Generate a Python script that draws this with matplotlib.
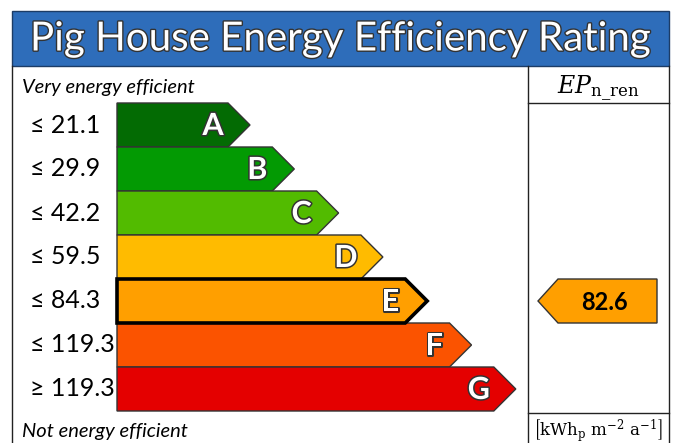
import matplotlib.pyplot as plt
import matplotlib.patches as mpatches
import matplotlib.patheffects as pe

# data
title = "Pig House Energy Efficiency Rating"
classes = ["A", "B", "C", "D", "E", "F", "G"]
limits = ["≤ 21.1", "≤ 29.9", "≤ 42.2", "≤ 59.5", "≤ 84.3", "≤ 119.3", "≥ 119.3"]
colors = ["#036b03", "#039a03", "#52bb00", "#ffbb00", "#ff9f00", "#fb5300", "#e40000"]
value = 82.6
rating = "E"

plt.rcParams['font.family'] = ['Lato', 'DejaVu Sans']

fig = plt.figure(figsize=(6.75, 4.43), dpi=100)
ax = fig.add_axes([0, 0, 1, 1])
ax.set_xlim(0, 675)
ax.set_ylim(443, 0)
ax.axis('off')

edge = '#222222'
# header
ax.add_patch(mpatches.Rectangle((12, 11), 657, 55, facecolor='#2e6dba', edgecolor='#1c3c66', lw=1))
ax.text(340, 39, title, color='white', fontsize=29, ha='center', va='center',
        path_effects=[pe.withStroke(linewidth=2, foreground='#333333')])

# frame
ax.plot([12, 12], [66, 443], color=edge, lw=1)
ax.plot([669, 669], [66, 443], color=edge, lw=1)
ax.plot([528, 528], [66, 443], color=edge, lw=1)
ax.plot([528, 669], [103, 103], color=edge, lw=1)
ax.plot([528, 669], [413, 413], color=edge, lw=1)

ax.text(22, 87, "Very energy efficient", fontsize=14.5, style='italic', va='center', ha='left')
ax.text(22, 431, "Not energy efficient", fontsize=14.5, style='italic', va='center', ha='left')

ax.text(598, 88, r"$EP_{\mathrm{n\_ren}}$", fontsize=17, ha='center', va='center',
        family='DejaVu Serif', math_fontfamily='dejavuserif')
ax.text(598, 430, r"$\left[\mathrm{kWh_p\ m^{-2}\ a^{-1}}\right]$", fontsize=12,
        ha='center', va='center', math_fontfamily='dejavuserif')

top0, h, x0, end0, step = 103, 44, 117, 228, 44.3
for i, (c, lab, col) in enumerate(zip(classes, limits, colors)):
    top = top0 + i * h
    end = end0 + i * step
    pts = [(x0, top), (end, top), (end + h / 2, top + h / 2), (end, top + h), (x0, top + h)]
    sel = (c == rating)
    ax.add_patch(mpatches.Polygon(pts, closed=True, facecolor=col,
                                  edgecolor='black' if sel else '#333333',
                                  lw=2.6 if sel else 1, joinstyle='miter', zorder=3 if sel else 2))
    ax.text(end - 15, top + h / 2 + 1, c, color='white', fontsize=22, fontweight='bold',
            ha='center', va='center', zorder=4,
            path_effects=[pe.withStroke(linewidth=2.2, foreground='#333333')])
    ax.text(30, top + h / 2, lab, fontsize=18, ha='left', va='center')

# indicator arrow
ri = classes.index(rating)
top = top0 + ri * h
pts = [(538, top + h / 2), (558, top), (657, top), (657, top + h), (558, top + h)]
ax.add_patch(mpatches.Polygon(pts, closed=True, facecolor=colors[ri], edgecolor='#333333', lw=1))
ax.text(604, top + h / 2 + 1, f"{value:.1f}", fontsize=17, fontweight='bold', ha='center', va='center')

fig.savefig('out.png', dpi=100)
